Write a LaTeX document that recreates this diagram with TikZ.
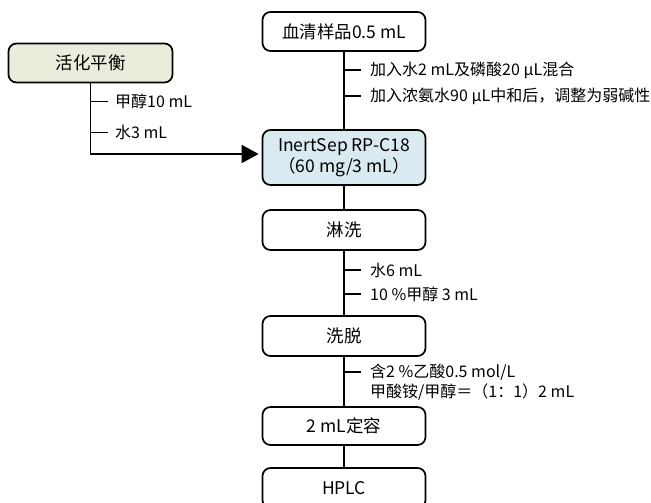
\documentclass[tikz,border=0pt]{standalone}
\usepackage{fontspec}
\setmainfont{Noto Sans CJK SC}
\usetikzlibrary{arrows.meta}

\definecolor{prepgreen}{HTML}{E8EDDC}
\definecolor{colblue}{HTML}{D9EAF0}

\tikzset{
  box/.style={draw, rounded corners=8bp, line width=1.7bp, minimum width=163bp,
    minimum height=40bp, align=center, inner sep=2bp,
    font=\fontsize{17.5bp}{21bp}\selectfont},
  link/.style={line width=1.8bp},
  note/.style={anchor=west, inner sep=0pt, font=\fontsize{16bp}{19bp}\selectfont},
}

\begin{document}
\begin{tikzpicture}[x=1bp, y=-1bp]
\useasboundingbox (0,0) rectangle (651,503);

% column position and tick lengths
\def\colX{344}
\def\tickLen{17}
\def\noteX{370}

% main flow
\node[box, minimum height=39bp] (serum) at (\colX,31.5) {血清样品0.5 mL};
\node[box, fill=colblue, minimum height=55bp] (column) at (\colX,157.5) {InertSep RP-C18\\（60 mg/3 mL）};
\node[box] (wash) at (\colX,230) {淋洗};
\node[box] (elute) at (\colX,336) {洗脱};
\node[box, minimum height=38bp] (volume) at (\colX,426) {2 mL定容};
\node[box] (hplc) at (\colX,488) {HPLC};

\draw[link] (serum) -- (column);
\draw[link] (column) -- (wash);
\draw[link] (wash) -- (elute);
\draw[link] (elute) -- (volume);
\draw[link] (volume) -- (hplc);

% conditioning branch
\node[box, fill=prepgreen, minimum width=164bp, minimum height=39bp] (prep) at (90.5,63) {活化平衡};
\coordinate (bend) at (90.5,154);
\draw[link, -{Triangle[length=17bp, width=18bp]}, shorten >=3bp]
  (prep) -- (bend) -- (bend -| column.west);

% side notes
\foreach \y/\txt in {70/{加入水2 mL及磷酸20 μL混合}, 96/{加入浓氨水90 μL中和后，调整为弱碱性},
                     270/{水6 mL}, 294/{10 \%甲醇 3 mL}, 372/{含2 \%乙酸0.5 mol/L}}{
  \draw[link] (\colX,\y) -- ++(\tickLen,0);
  \node[note] at (\noteX,\y) {\txt};
}
\node[note] (eluent) at (\noteX,392) {甲酸铵/甲醇＝（1：1）2 mL};

\foreach \y/\txt in {101.5/{甲醇10 mL}, 132.5/{水3 mL}}{
  \draw[link] (90.5,\y) -- ++(\tickLen,0);
  \node[note] at (115,\y) {\txt};
}
\end{tikzpicture}
\end{document}
